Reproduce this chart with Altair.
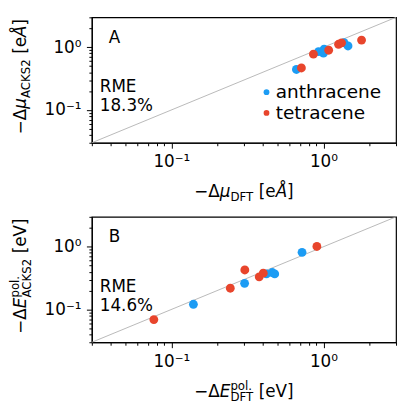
import altair as alt
import pandas as pd

FONT = "DejaVu Sans"

# Panel A: induced dipole, -Δμ in eÅ (DFT on x, ACKS2 on y)
a_anth_dft = [0.664, 0.928, 1.01, 1.00, 1.365, 1.45]
a_anth_acks2 = [0.442, 0.849, 0.93, 0.805, 1.186, 1.048]
a_tetr_dft = [0.716, 0.859, 1.082, 1.256, 1.315, 1.78]
a_tetr_acks2 = [0.467, 0.776, 0.897, 1.115, 1.177, 1.30]

# Panel B: polarisation energy, -ΔE_pol in eV
b_anth_dft = [0.1396, 0.303, 0.422, 0.461, 0.478, 0.723]
b_anth_acks2 = [0.121, 0.261, 0.369, 0.388, 0.369, 0.815]
b_tetr_dft = [0.0767, 0.244, 0.304, 0.378, 0.402, 0.905]
b_tetr_acks2 = [0.069, 0.218, 0.426, 0.331, 0.379, 1.01]

molecules = ["anthracene", "tetracene"]
colors = ["#1c9cf4", "#e8452c"]
rme_values = ["18.3%", "14.6%"]
panel_letters = ["A", "B"]

axis_range = [0.03, 3]
tick_values = [0.03, 0.04, 0.05, 0.06, 0.07, 0.08, 0.09,
               0.1, 0.2, 0.3, 0.4, 0.5, 0.6, 0.7, 0.8, 0.9,
               1, 2, 3]

W, H = 308, 127          # plot area of each panel
GAP = 75                 # vertical distance between the two plot areas
LEFT, TOP = 92, 14       # offset of the first plot area inside the page

# DejaVu Sans advance widths (em) for the characters used in the titles
ADV = {" ": 0.318, "−": 0.838, "Δ": 0.684, "μ": 0.635, "E": 0.632, "D": 0.770,
       "F": 0.575, "T": 0.611, "A": 0.684, "C": 0.698, "K": 0.656, "S": 0.635,
       "2": 0.636, "p": 0.635, "o": 0.612, "l": 0.278, ".": 0.318, "[": 0.390,
       "]": 0.390, "e": 0.615, "V": 0.684, "Å": 0.684}

one = pd.DataFrame({"k": [0]})

MAJOR = "abs(datum.value - 1) < 1e-9 || abs(datum.value - 0.1) < 1e-9"
LABELS = "abs(datum.value - 1) < 1e-9 ? '10⁰' : (abs(datum.value - 0.1) < 1e-9 ? '10⁻¹' : '')"


def make_axis(pad):
    return alt.Axis(
        values=tick_values, labelExpr=LABELS, title=None, grid=False,
        tickSize={"condition": {"test": MAJOR, "value": 5.5}, "value": 3},
        tickColor="black", tickWidth=1, domainColor="black", domainWidth=1.2,
        labelFont=FONT, labelFontSize=17, labelColor="black",
        labelPadding=pad, labelOverlap=False, labelFlush=False, labelBound=False,
    )


def text_mark(t, x, y, size, italic=False, angle=0):
    kw = dict(text=t, font=FONT, fontSize=size, align="left",
              baseline="alphabetic", color="black")
    if italic:
        kw["fontStyle"] = "italic"
    if angle:
        kw["angle"] = angle
    return alt.Chart(one).mark_text(**kw).encode(x=alt.value(x), y=alt.value(y))


def width_of(t, size):
    return sum(ADV.get(c, 0.6) for c in t) * size


def math_title(pieces, center, base, vertical=False):
    """Lay out a title made of (text, size, italic, shift, stacked) pieces."""
    total, pending = 0.0, 0.0
    for t, s, it, sh, st in pieces:
        w = width_of(t, s)
        if st:
            pending = w
        else:
            total += max(w, pending)
            pending = 0.0
    pos, pending = center - total / 2, 0.0
    out = []
    for t, s, it, sh, st in pieces:
        lead = (len(t) - len(t.lstrip(" "))) * ADV[" "] * s
        w = width_of(t, s)
        p = pos + lead
        if vertical:
            out.append(text_mark(t.strip(), base + sh, 2 * center - p, s, it, 270))
        else:
            out.append(text_mark(t.strip(), p, base + sh, s, it))
        if st:
            pending = w
        else:
            pos += max(w, pending)
            pending = 0.0
    return out


def panel(anth_x, anth_y, tetr_x, tetr_y, letter, rme, xt, yt, legend, anchor):
    df = pd.DataFrame({
        "dft": anth_x + tetr_x,
        "acks2": anth_y + tetr_y,
        "molecule": [molecules[0]] * len(anth_x) + [molecules[1]] * len(tetr_x),
    })
    diag = pd.DataFrame({"dft": axis_range, "acks2": axis_range})
    xs = alt.Scale(type="log", domain=axis_range, nice=False)
    ys = alt.Scale(type="log", domain=axis_range, nice=False)
    x = alt.X("dft:Q", scale=xs, axis=make_axis(6))
    y = alt.Y("acks2:Q", scale=ys, axis=make_axis(5.5))

    line = alt.Chart(diag).mark_line(color="#a8a8a8", strokeWidth=0.8).encode(x=x, y=y)
    leg = None
    if legend:
        leg = alt.Legend(orient="none", legendX=167.5, legendY=66.5, title=None,
                         labelFont=FONT, labelFontSize=18.7, labelColor="black",
                         symbolType="circle", symbolSize=34, symbolStrokeWidth=0,
                         labelOffset=0, rowPadding=1, padding=0)
    pts = alt.Chart(df).mark_circle(size=80, opacity=1).encode(
        x=x, y=y,
        color=alt.Color("molecule:N", scale=alt.Scale(domain=molecules, range=colors),
                        legend=leg),
    )
    layers = [line, pts,
              text_mark(letter, 17, 25.5, 17),
              text_mark("RME", 8, 76, 17),
              text_mark(rme, 8, 95, 17)]
    layers += math_title(xt, W / 2, 182)
    layers += math_title(yt, 60, -66.3, vertical=True)
    if anchor:
        layers.append(alt.Chart(one).mark_rule(opacity=0, strokeWidth=0).encode(
            x=alt.value(-LEFT), x2=alt.value(-LEFT),
            y=alt.value(-TOP), y2=alt.value(-TOP + 1)))
    return alt.layer(*layers).properties(width=W, height=H)


SUB, SUP, BIG = 11.9, 11.9, 17
xt_a = [("−Δ", BIG, False, 0, False), ("μ", BIG, True, 0, False),
        ("DFT", SUB, False, 3.5, False), (" [e", BIG, False, 0, False),
        ("Å", BIG, True, 0, False), ("]", BIG, False, 0, False)]
yt_a = [("−Δ", BIG, False, 0, False), ("μ", BIG, True, 0, False),
        ("ACKS2", SUB, False, 3.5, False), (" [e", BIG, False, 0, False),
        ("Å", BIG, True, 0, False), ("]", BIG, False, 0, False)]
xt_b = [("−Δ", BIG, False, 0, False), ("E", BIG, True, 0, False),
        ("pol.", SUP, False, -7, True), ("DFT", SUB, False, 4.5, False),
        (" [eV]", BIG, False, 0, False)]
yt_b = [("−Δ", BIG, False, 0, False), ("E", BIG, True, 0, False),
        ("pol.", SUP, False, -7, True), ("ACKS2", SUB, False, 4.5, False),
        (" [eV]", BIG, False, 0, False)]

pa = panel(a_anth_dft, a_anth_acks2, a_tetr_dft, a_tetr_acks2,
           panel_letters[0], rme_values[0], xt_a, yt_a, True, True)
pb = panel(b_anth_dft, b_anth_acks2, b_tetr_dft, b_tetr_acks2,
           panel_letters[1], rme_values[1], xt_b, yt_b, False, False)

chart = (
    alt.vconcat(pa, pb, spacing=GAP, bounds="flush")
    .resolve_legend(color="independent")
    .properties(padding=0, background="white")
    .configure_view(stroke="black", strokeWidth=1.2)
    .configure_axis(grid=False)
)

chart.save("out.html", embed_options={"renderer": "svg", "actions": False})
